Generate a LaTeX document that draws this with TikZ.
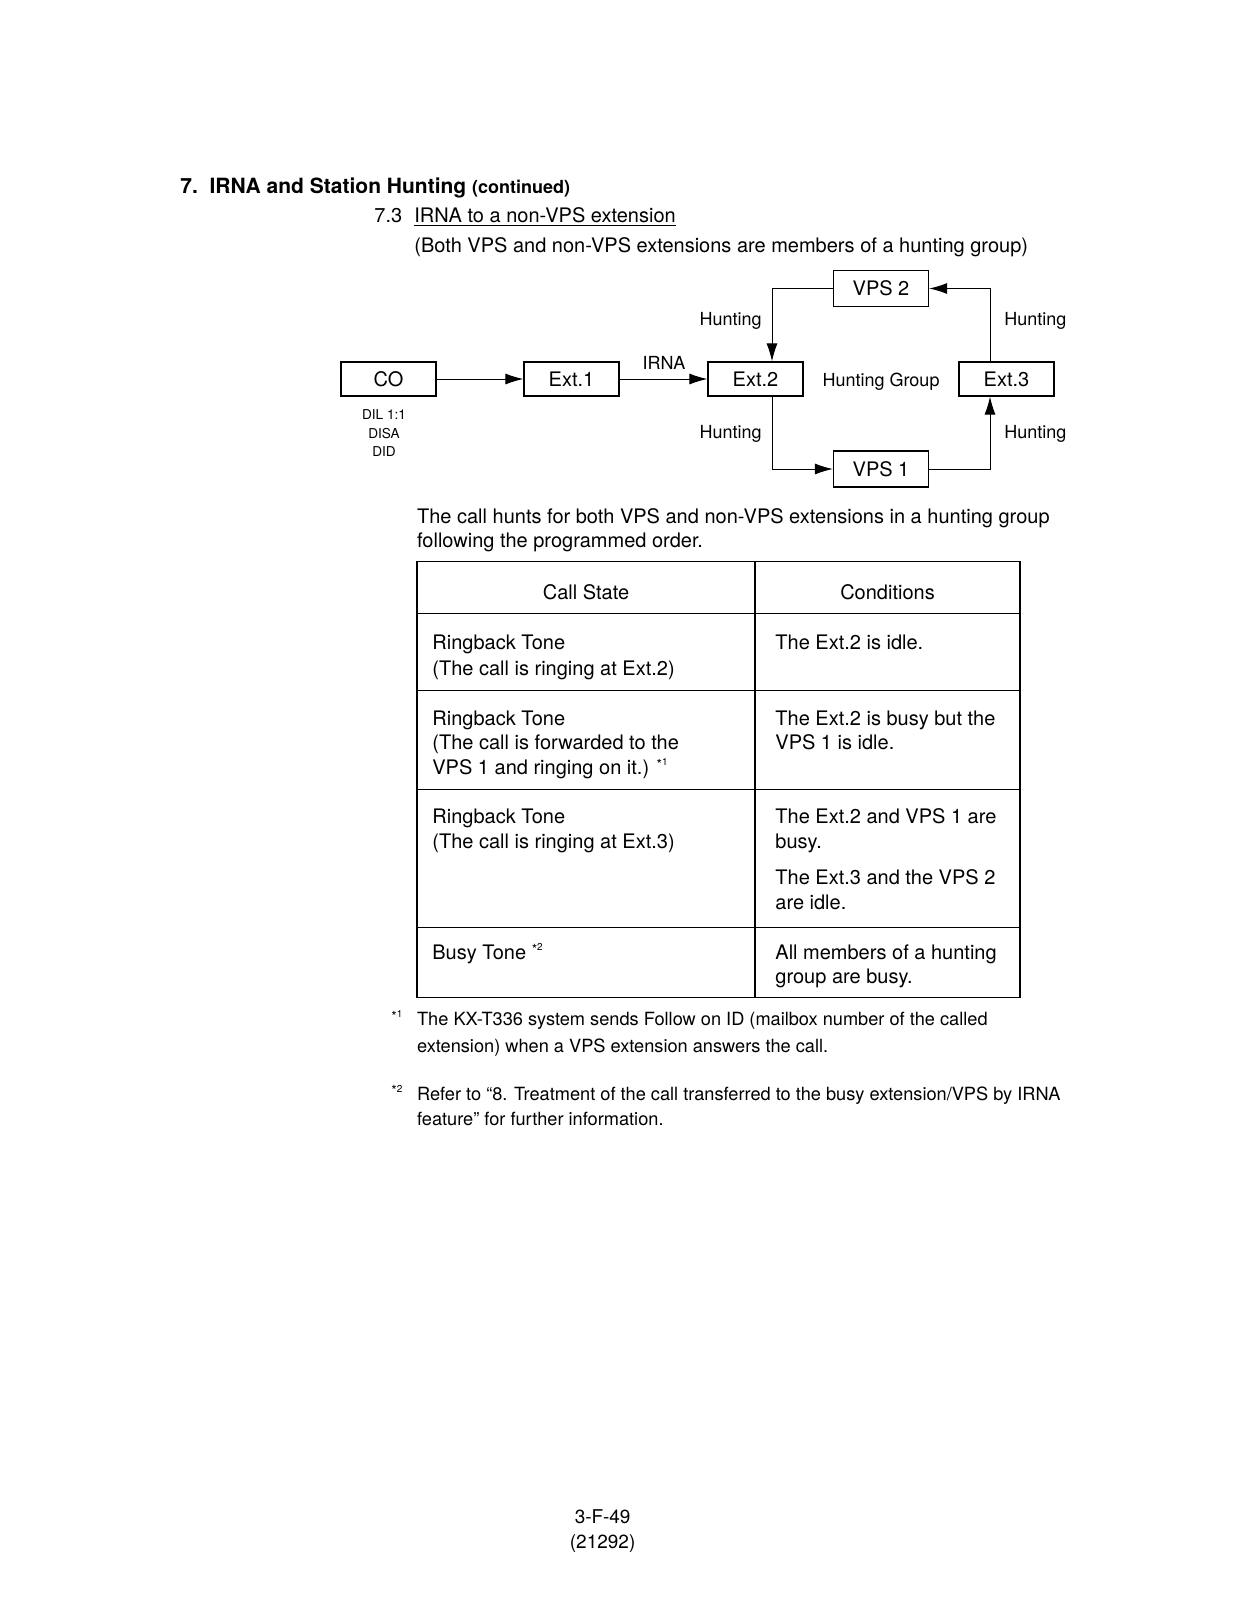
\documentclass[tikz,border=0pt]{standalone}
\usepackage{fontspec}
\setmainfont{TeX Gyre Heros}
\usetikzlibrary{arrows.meta}
\tikzset{
  box/.style={draw, line width=0.6pt, minimum width=47.5pt, minimum height=17pt, inner sep=0pt, font=\fontsize{10}{12}\selectfont},
  arr/.style={line width=0.5pt, -{Latex[length=9pt,width=5.5pt]}},
  ln/.style={line width=0.5pt},
  body/.style={anchor=base west, inner sep=0pt, font=\fontsize{10}{12}\selectfont},
  lbl/.style={inner sep=0pt, font=\fontsize{9}{11}\selectfont},
  small/.style={anchor=base, inner sep=0pt, font=\fontsize{6.8}{8}\selectfont},
  foot/.style={anchor=base west, inner sep=0pt, font=\fontsize{9.1}{11}\selectfont},
  tab/.style={line width=0.6pt}
}
\newcommand{\mk}[1]{\raisebox{0.25em}{\fontsize{7}{8}\selectfont *}\raisebox{0.45em}{\fontsize{5}{6}\selectfont #1}}
\begin{document}
\begin{tikzpicture}[x=0.5pt,y=-0.5pt]
\useasboundingbox[fill=white] (0,0) rectangle (1244,1601);

% headings
\node[anchor=base west, inner sep=0pt, font=\fontsize{10.5}{12}\selectfont\bfseries] (title) at (180,193) {7.\ \ IRNA and Station Hunting\ {\fontsize{9}{11}\selectfont(continued)}};
\node[body] (num) at (374,222.5) {7.3};
\node[body] (sub) at (414,222.5) {\underline{IRNA to a non-VPS extension}};
\node[body] (both) at (414,252) {(Both VPS and non-VPS extensions are members of a hunting group)};

% diagram
\node[box] (co) at (388.5,379) {CO};
\node[box] (ext1) at (571.5,379) {Ext.1};
\node[box] (ext2) at (755.5,379) {Ext.2};
\node[box] (ext3) at (1006.5,379) {Ext.3};
\node[box, minimum height=18pt] (vps2) at (881,288.5) {VPS 2};
\node[box, minimum height=18pt] (vps1) at (881,469) {VPS 1};
\coordinate (lv) at (772,0);
\coordinate (rv) at (990,0);

\draw[arr] (co.east) -- (ext1.west);
\draw[arr] (ext1.east) -- (ext2.west);
\draw[arr] (vps2.west) -| (lv |- ext2.north);
\draw[arr] (ext2.south -| lv) |- (vps1.west);
\draw[arr] (vps1.east) -| (rv |- ext3.south);
\draw[arr] (rv |- ext3.north) |- (vps2.east);

\node[lbl, anchor=base] (irna) at (664,369) {IRNA};
\node[lbl, anchor=base east] (h1) at (762,325) {Hunting};
\node[lbl, anchor=base east] (h2) at (762,438) {Hunting};
\node[lbl, anchor=base west] (h3) at (1004,325) {Hunting};
\node[lbl, anchor=base west] (h4) at (1004,438) {Hunting};
\node[lbl, anchor=base] (hg) at (881,386) {Hunting Group};

\node[small] (dil) at (384,419) {DIL 1:1};
\node[small] (disa) at (384,438) {DISA};
\node[small] (did) at (384,456) {DID};

% text
\node[body] (p1) at (416.7,523) {The call hunts for both VPS and non-VPS extensions in a hunting group};
\node[body] (p2) at (416.7,547) {following the programmed order.};

% table
\draw[tab] (417,561.7) rectangle (1020,997.8);
\draw[tab] (755,561.7) -- (755,997.8);
\draw[tab] (417,613.8) -- (1020,613.8);
\draw[tab] (417,690.4) -- (1020,690.4);
\draw[tab] (417,789.5) -- (1020,789.5);
\draw[tab] (417,927.4) -- (1020,927.4);

\node[body, anchor=base] (hcs) at (586,599.4) {Call State};
\node[body, anchor=base] (hco) at (887.5,599.4) {Conditions};

\node[body] (a1) at (432,649.4) {Ringback Tone};
\node[body] (a2) at (432,675) {(The call is ringing at Ext.2)};
\node[body] (b1) at (775,649.4) {The Ext.2 is idle.};

\node[body] (c1) at (432,725) {Ringback Tone};
\node[body] (c2) at (432,749.5) {(The call is forwarded to the};
\node[body] (c3) at (432,774) {VPS 1 and ringing on it.) \mk{1}};
\node[body] (d1) at (775,725) {The Ext.2 is busy but the};
\node[body] (d2) at (775,749.5) {VPS 1 is idle.};

\node[body] (e1) at (432,823) {Ringback Tone};
\node[body] (e2) at (432,848.5) {(The call is ringing at Ext.3)};
\node[body] (f1) at (775,823) {The Ext.2 and VPS 1 are};
\node[body] (f2) at (775,848.5) {busy.};
\node[body] (f3) at (775,884.3) {The Ext.3 and the VPS 2};
\node[body] (f4) at (775,909.8) {are idle.};

\node[body] (g1) at (432,959) {Busy Tone \mk{2}};
\node[body] (h1r) at (775,959) {All members of a hunting};
\node[body] (h2r) at (775,983.4) {group are busy.};

% footnotes
\node[foot] (n1m) at (391,1025.8) {\mk{1}};
\node[foot] (n1a) at (416.7,1025.8) {The KX-T336 system sends Follow on ID (mailbox number of the called};
\node[foot] (n1b) at (416.7,1052.3) {extension) when a VPS extension answers the call.};
\node[foot] (n2m) at (391,1100.3) {\mk{2}};
\node[foot] (n2a) at (416.7,1100.3) {Refer to ``8. Treatment of the call transferred to the busy extension/VPS by IRNA};
\node[foot] (n2b) at (416.7,1125.8) {feature'' for further information.};

% page number
\node[anchor=base, inner sep=0pt, font=\fontsize{9.5}{11}\selectfont] (pg1) at (602.6,1523.7) {3-F-49};
\node[anchor=base, inner sep=0pt, font=\fontsize{9.5}{11}\selectfont] (pg2) at (602.6,1548) {(21292)};
\end{tikzpicture}
\end{document}
